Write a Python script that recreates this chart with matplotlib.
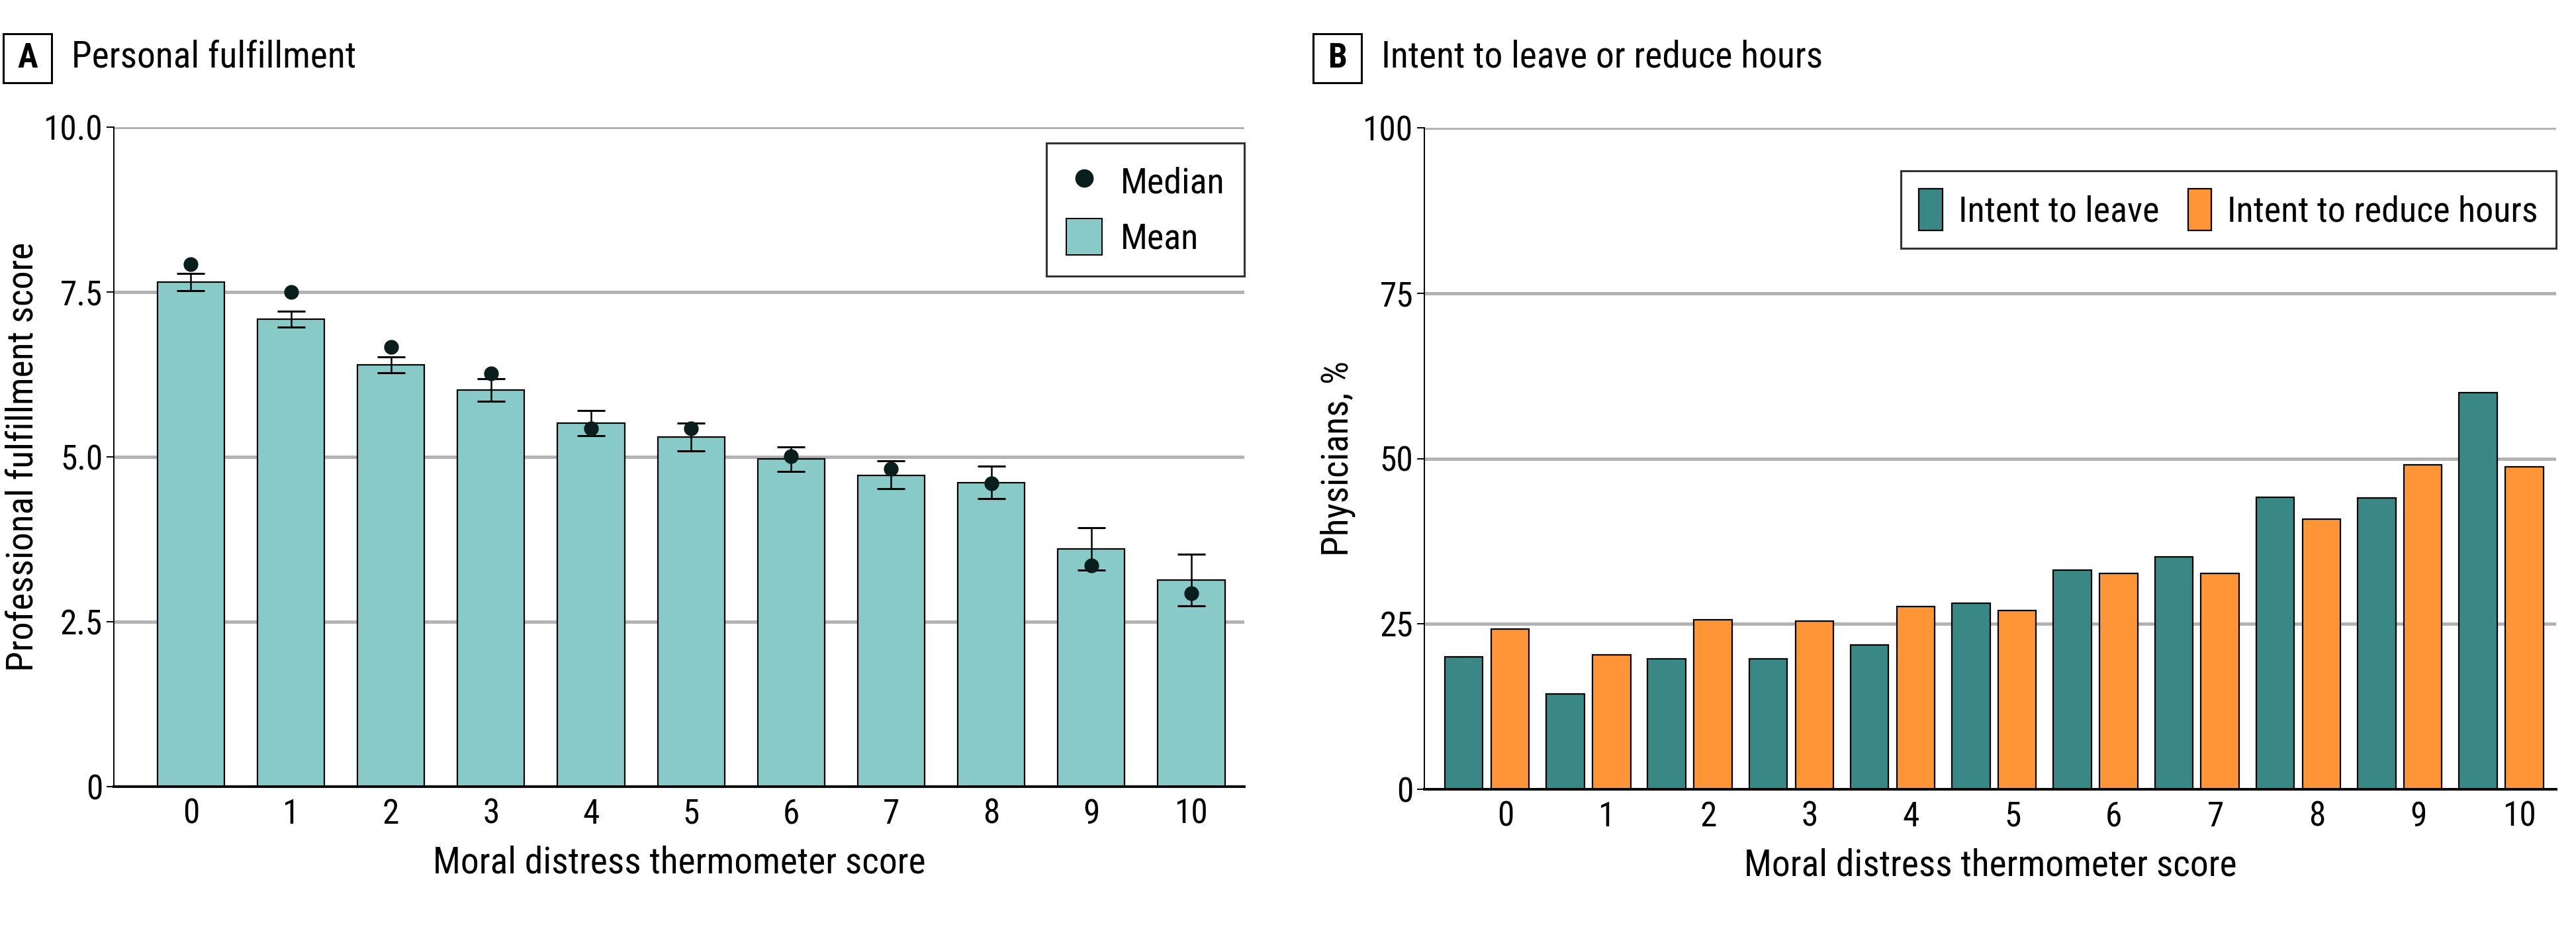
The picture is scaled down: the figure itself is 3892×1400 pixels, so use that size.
import matplotlib
matplotlib.use("Agg")
import matplotlib.pyplot as plt
from matplotlib.patches import Rectangle, Patch
from matplotlib.lines import Line2D
import numpy as np

plt.rcParams['font.family'] = ['Roboto Condensed', 'DejaVu Sans']

# ---------------- data ----------------
scores = [0, 1, 2, 3, 4, 5, 6, 7, 8, 9, 10]
score_labels = ["0", "1", "2", "3", "4", "5", "6", "7", "8", "9", "10"]

fulfillment_mean = [7.65, 7.09, 6.40, 6.01, 5.51, 5.30, 4.97, 4.72, 4.61, 3.60, 3.13]
fulfillment_ci_low = [7.52, 6.97, 6.28, 5.84, 5.32, 5.09, 4.78, 4.52, 4.37, 3.28, 2.74]
fulfillment_ci_high = [7.78, 7.21, 6.52, 6.18, 5.70, 5.51, 5.15, 4.94, 4.86, 3.93, 3.52]
fulfillment_median = [7.92, 7.50, 6.67, 6.27, 5.43, 5.43, 5.01, 4.82, 4.60, 3.35, 2.93]

intent_leave = [20.0, 14.4, 19.7, 19.7, 21.8, 28.1, 33.1, 35.1, 44.1, 44.0, 60.0]
intent_reduce = [24.2, 20.3, 25.6, 25.4, 27.6, 27.0, 32.6, 32.6, 40.8, 49.0, 48.7]

a_yticks = [0, 2.5, 5.0, 7.5, 10.0]
a_yticklabels = ["0", "2.5", "5.0", "7.5", "10.0"]
b_yticks = [0, 25, 50, 75, 100]
b_yticklabels = ["0", "25", "50", "75", "100"]

# ---------------- style ----------------
W, H = 3892, 1400
DPI = 100
C_MEAN = "#88CAC8"
C_MED = "#0A1E1E"
C_LEAVE = "#3A8886"
C_REDUCE = "#FF9537"
C_GRID = "#B3B3B3"
FS = 37
FS_LEG = 39
FS_LAB = 40

fig = plt.figure(figsize=(W / DPI, H / DPI), dpi=DPI)


def px_axes(l, r, t, b):
    return fig.add_axes([l / W, 1 - b / H, (r - l) / W, (b - t) / H])


def style_axes(ax, yticks, ylabels):
    ax.set_yticks(yticks)
    ax.set_yticklabels(ylabels, fontsize=FS)
    ax.yaxis.grid(True, color=C_GRID, linewidth=3.6)
    ax.set_axisbelow(True)
    for s in ("top", "right"):
        ax.spines[s].set_visible(False)
    ax.spines["left"].set_linewidth(1.4)
    ax.spines["bottom"].set_linewidth(2.8)
    ax.tick_params(axis="y", length=8, width=1.4, pad=4)
    ax.tick_params(axis="x", length=0, pad=12, labelsize=FS)


def panel_title(x0, letter, text):
    y_top, y_bot = 51, 125
    fig.patches.append(Rectangle((x0 / W, 1 - y_bot / H), 73 / W, (y_bot - y_top) / H,
                                 transform=fig.transFigure, fc="white", ec="black", lw=2.2))
    fig.text((x0 + 36.5) / W, 1 - 88 / H, letter, ha="center", va="center",
             fontsize=FS, fontweight="bold")
    fig.text((x0 + 103) / W, 1 - 86 / H, text, ha="left", va="center", fontsize=40)


# ---------------- panel A ----------------
axA = px_axes(172, 1880, 192, 1188)
x = np.array(scores)
axA.bar(x, fulfillment_mean, width=0.67, color=C_MEAN, edgecolor="black", linewidth=1.6, zorder=2)
mean = np.array(fulfillment_mean)
yerr = np.vstack([mean - np.array(fulfillment_ci_low), np.array(fulfillment_ci_high) - mean])
axA.errorbar(x, mean, yerr=yerr, fmt="none", ecolor="black", elinewidth=1.8,
             capsize=15, capthick=2.2, zorder=3)
axA.plot(x, fulfillment_median, "o", color=C_MED, markersize=15, zorder=4)
axA.set_xlim(-0.77, 10.53)
axA.set_ylim(0, 10)
style_axes(axA, a_yticks, a_yticklabels)
axA.set_xticks(x)
axA.set_xticklabels(score_labels)
axA.set_xlabel("Moral distress thermometer score", fontsize=FS_LAB, labelpad=16)
axA.set_ylabel("Professional fulfillment score", fontsize=FS_LAB, labelpad=4)

legA = axA.legend(handles=[Line2D([], [], marker="o", linestyle="none", color=C_MED, markersize=19),
                           Patch(facecolor=C_MEAN, edgecolor="black", linewidth=1.4)],
                  labels=["Median", "Mean"], loc="upper right", bbox_to_anchor=(1.0, 0.976),
                  fontsize=FS_LEG, frameon=True, fancybox=False, edgecolor="black",
                  handlelength=1.0, handleheight=1.2, handletextpad=0.5, labelspacing=0.5,
                  borderpad=0.55, borderaxespad=0.0)
legA.get_frame().set_linewidth(2.2)

# ---------------- panel B ----------------
axB = px_axes(2152, 3862, 193, 1192)
axB.bar(x - 0.41, intent_leave, width=0.375, color=C_LEAVE, edgecolor="black", linewidth=1.6,
        zorder=2, label="Intent to leave")
axB.bar(x + 0.046, intent_reduce, width=0.375, color=C_REDUCE, edgecolor="black", linewidth=1.6,
        zorder=2, label="Intent to reduce hours")
axB.set_xlim(-0.80, 10.36)
axB.set_ylim(0, 100)
style_axes(axB, b_yticks, b_yticklabels)
axB.set_xticks(x)
axB.set_xticklabels(score_labels)
axB.set_xlabel("Moral distress thermometer score", fontsize=FS_LAB, labelpad=16)
axB.set_ylabel("Physicians, %", fontsize=FS_LAB, labelpad=8)
legB = axB.legend(loc="upper right", bbox_to_anchor=(1.0, 0.935), ncol=2, fontsize=FS_LEG,
                  frameon=True, fancybox=False, edgecolor="black",
                  handlelength=0.65, handleheight=1.4, handletextpad=0.45, columnspacing=0.8,
                  borderpad=0.5, borderaxespad=0.0)
legB.get_frame().set_linewidth(2.2)

panel_title(5, "A", "Personal fulfillment")
panel_title(1984, "B", "Intent to leave or reduce hours")

fig.savefig("out.png", dpi=DPI, facecolor="white")
